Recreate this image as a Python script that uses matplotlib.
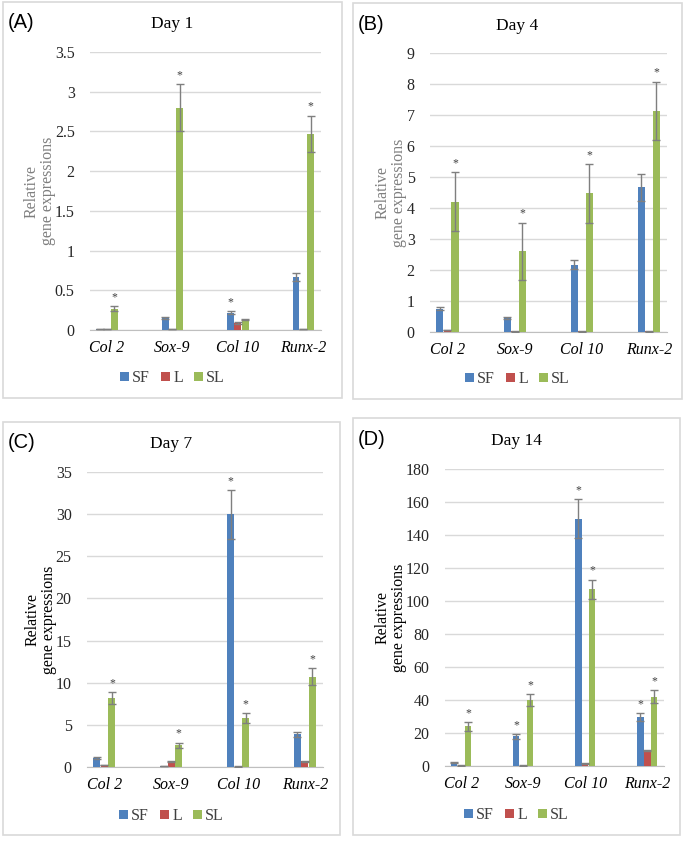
import matplotlib
matplotlib.use("Agg")
import matplotlib.pyplot as plt
from matplotlib.patches import Rectangle, Patch
import numpy as np

plt.rcParams["font.family"] = ["Liberation Serif", "DejaVu Serif"]

genes = ["Col 2", "Sox-9", "Col 10", "Runx-2"]
series = ["SF", "L", "SL"]
colors = ["#4F81BD", "#C0504D", "#9BBB59"]

# Day 1
d1_sf = [0.01, 0.15, 0.22, 0.67]
d1_sf_err = [0.003, 0.01, 0.02, 0.05]
d1_l = [0.01, 0.01, 0.09, 0.01]
d1_l_err = [0.002, 0.002, 0.01, 0.002]
d1_sl = [0.27, 2.80, 0.13, 2.47]
d1_sl_err = [0.03, 0.30, 0.01, 0.23]
d1_stars = [[0, 0, 1, 0], [0, 0, 0, 0], [1, 1, 0, 1]]

# Day 4
d4_sf = [0.75, 0.45, 2.17, 4.67]
d4_sf_err = [0.05, 0.03, 0.15, 0.43]
d4_l = [0.07, 0.02, 0.02, 0.02]
d4_l_err = [0.01, 0.005, 0.005, 0.005]
d4_sl = [4.20, 2.60, 4.47, 7.13]
d4_sl_err = [0.95, 0.93, 0.95, 0.95]
d4_stars = [[0, 0, 0, 0], [0, 0, 0, 0], [1, 1, 1, 1]]

# Day 7
d7_sf = [1.1, 0.1, 30.0, 3.9]
d7_sf_err = [0.1, 0.02, 2.9, 0.3]
d7_l = [0.25, 0.7, 0.05, 0.7]
d7_l_err = [0.02, 0.05, 0.01, 0.05]
d7_sl = [8.2, 2.6, 5.8, 10.7]
d7_sl_err = [0.7, 0.3, 0.6, 1.0]
d7_stars = [[0, 0, 1, 0], [0, 0, 0, 0], [1, 1, 1, 1]]

# Day 14
d14_sf = [2.0, 18.0, 150.0, 29.5]
d14_sf_err = [0.3, 1.5, 12.0, 2.5]
d14_l = [0.3, 0.3, 1.5, 9.5]
d14_l_err = [0.05, 0.05, 0.2, 0.5]
d14_sl = [24.0, 40.0, 107.0, 42.0]
d14_sl_err = [2.5, 3.5, 6.0, 4.0]
d14_stars = [[0, 1, 1, 1], [0, 0, 0, 0], [1, 1, 1, 1]]

W, H = 693, 848
fig = plt.figure(figsize=(W / 100, H / 100), dpi=100)


def rect(x0, y0, x1, y1):
    return [x0 / W, 1 - y1 / H, (x1 - x0) / W, (y1 - y0) / H]


def panel(box, axbox, letter, title, vals, errs, stars, ymax, ystep,
          label_color, label_x, title_y, legend_y):
    bx0, by0, bx1, by1 = box
    fig.add_artist(Rectangle((bx0 / W, 1 - by1 / H), (bx1 - bx0) / W, (by1 - by0) / H,
                             transform=fig.transFigure, fill=False,
                             edgecolor="#d9d9d9", lw=1.2))
    cx = (bx0 + bx1) / 2
    fig.text((bx0 + 5) / W, 1 - (by0 + 21) / H, letter, family="Liberation Sans",
             fontsize=14.5, va="center", ha="left")
    fig.text(cx / W, 1 - title_y / H, title, fontsize=12.5, ha="center", va="center")

    ax = fig.add_axes(rect(*axbox))
    x = np.arange(len(genes))
    bw = 0.105
    offs = [-0.112, 0.0, 0.112]
    for i in range(3):
        ax.bar(x + offs[i], vals[i], bw, color=colors[i], zorder=3)
        ax.errorbar(x + offs[i], vals[i], yerr=errs[i], fmt="none", ecolor="#7f7f7f",
                    elinewidth=1, capsize=2.6, capthick=1, zorder=4)
        for j in range(len(genes)):
            if stars[i][j]:
                ax.annotate("*", (x[j] + offs[i], vals[i][j] + errs[i][j]),
                            xytext=(0, 2), textcoords="offset points",
                            ha="center", va="bottom", fontsize=8.5, color="#404040")
    ax.set_xlim(-0.26, 3.27)
    ax.set_ylim(0, ymax)
    ax.set_yticks(np.arange(0, ymax + ystep / 2, ystep))
    ax.yaxis.set_major_formatter(matplotlib.ticker.FormatStrFormatter("%g"))
    ax.set_xticks(x)
    ax.set_xticklabels(genes, fontstyle="italic", fontsize=11.5)
    ax.tick_params(axis="y", length=0, pad=11, labelsize=11.5, labelcolor="#262626")
    ax.tick_params(axis="x", length=0, pad=7, labelcolor="#000000")
    ax.grid(axis="y", color="#d9d9d9", lw=1, zorder=0)
    for s in ["top", "right", "left"]:
        ax.spines[s].set_visible(False)
    ax.spines["bottom"].set_color("#bfbfbf")
    ycen = (axbox[1] + axbox[3]) / 2
    fig.text(label_x / W, 1 - ycen / H, "Relative\ngene expressions", fontsize=11.5,
             color=label_color, rotation=90, ha="center", va="center",
             multialignment="center", linespacing=1.0)

    handles = [Patch(facecolor=c) for c in colors]
    fig.legend(handles, series, loc="center", bbox_to_anchor=(cx / W, 1 - legend_y / H),
               ncol=3, frameon=False, handlelength=0.55, handleheight=0.55,
               columnspacing=0.7, handletextpad=0.2, fontsize=11.5,
               labelcolor="#404040")
    return ax


panel((3, 2, 342, 398), (90, 52, 321, 330), "(A)", "Day 1",
      [d1_sf, d1_l, d1_sl], [d1_sf_err, d1_l_err, d1_sl_err], d1_stars,
      3.5, 0.5, "#7f7f7f", 40, 24, 378)
panel((353, 3, 682, 399), (430, 53, 667, 332), "(B)", "Day 4",
      [d4_sf, d4_l, d4_sl], [d4_sf_err, d4_l_err, d4_sl_err], d4_stars,
      9, 1, "#7f7f7f", 391, 26, 379)
panel((3, 422, 340, 835), (87, 472, 323, 767), "(C)", "Day 7",
      [d7_sf, d7_l, d7_sl], [d7_sf_err, d7_l_err, d7_sl_err], d7_stars,
      35, 5, "#000000", 41, 444, 816)
panel((353, 418, 680, 835), (445, 469, 664, 766), "(D)", "Day 14",
      [d14_sf, d14_l, d14_sl], [d14_sf_err, d14_l_err, d14_sl_err], d14_stars,
      180, 20, "#000000", 391, 441, 815)

fig.savefig("out.png", dpi=100, facecolor="white")
